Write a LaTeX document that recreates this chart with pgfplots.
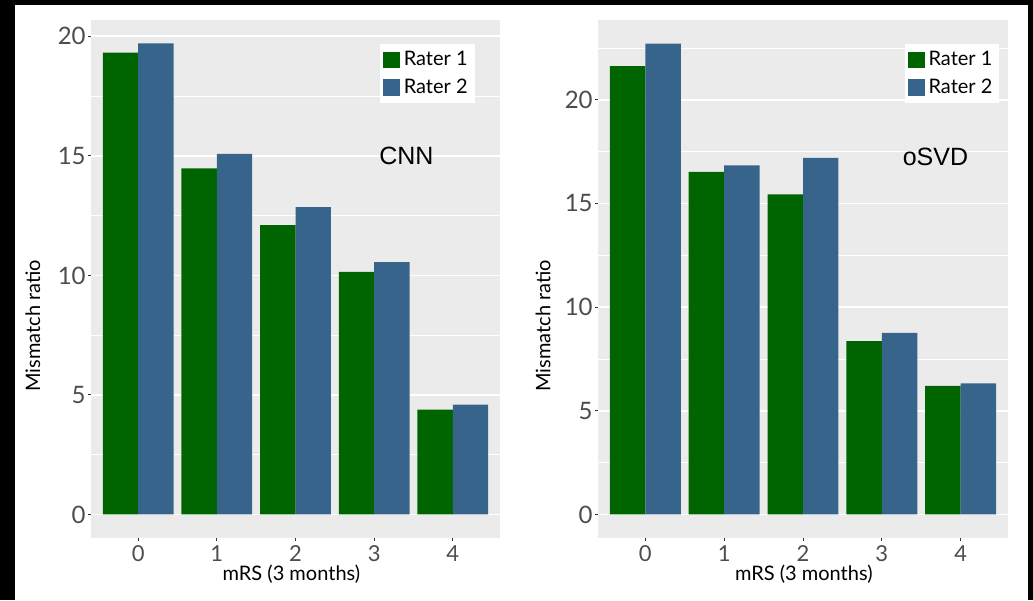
\documentclass[border=0pt]{standalone}
\usepackage{fontspec}
\setmainfont{Lato}
\newfontfamily\arialfont{Liberation Sans}
\usepackage{pgfplots}
\pgfplotsset{compat=1.18}
\definecolor{rgreen}{HTML}{006400}
\definecolor{rblue}{HTML}{36648B}
\definecolor{panelbg}{HTML}{EBEBEB}
\definecolor{ticktxt}{HTML}{4D4D4D}
\definecolor{tickcol}{HTML}{333333}
\pgfplotsset{
  ggbar/.style={
    scale only axis, height=259pt, anchor=south west,
    axis background/.style={fill=panelbg},
    axis line style={draw=none},
    xmin=-0.6, xmax=4.6,
    xtick={0,1,2,3,4},
    ytick={0,5,10,15,20},
    minor ytick={2.5,7.5,12.5,17.5,22.5},
    xtick pos=bottom, ytick pos=left,
    ymajorgrids, yminorgrids,
    major grid style={white, line width=0.9pt},
    minor grid style={white, line width=0.45pt},
    tick align=outside,
    major tick length=1.5pt,
    minor tick length=0pt,
    tick style={tickcol, line width=0.5pt},
    /pgf/number format/assume math mode=true,
    ticklabel style={text=ticktxt},
    yticklabel style={inner sep=1pt, font=\fontsize{12}{14}\selectfont},
    xticklabel style={inner sep=2pt, font=\fontsize{11}{13}\selectfont},
    xlabel={mRS (3 months)}, ylabel={Mismatch ratio},
    label style={font=\fontsize{10}{12}\selectfont},
    legend style={fill=white, draw=none, inner sep=1.5pt, row sep=1pt,
      font=\fontsize{10}{12}\selectfont, legend cell align=left,
      anchor=north east},
    legend image code/.code={\fill[#1] (0pt,-4.2pt) rectangle (8.4pt,4.2pt);},
  }
}
\begin{document}
\begin{tikzpicture}
\fill[black] (0pt,0pt) rectangle (516.5pt,300pt);
\fill[white] (7.5pt,0pt) rectangle (514pt,297.5pt);
\begin{axis}[ggbar, at={(45.5pt,31pt)}, width=204.5pt,
  ymin=-0.985, ymax=20.685,
  every axis y label/.style={at={(axis description cs:-0.142,0.41)}, rotate=90, anchor=center},
  every axis x label/.style={at={(axis description cs:0.49,-0.069)}, anchor=center},
  legend style={at={(0.939,0.954)}}]
\addplot[ybar, bar width=0.45, bar shift=-0.225, fill=rgreen, draw=none]
  coordinates {(0,19.32) (1,14.48) (2,12.10) (3,10.15) (4,4.39)};
\addlegendentry{Rater 1}
\addplot[ybar, bar width=0.45, bar shift=0.225, fill=rblue, draw=none]
  coordinates {(0,19.71) (1,15.08) (2,12.86) (3,10.56) (4,4.59)};
\addlegendentry{Rater 2}
\node[font=\arialfont\fontsize{12.5}{14}\selectfont] at (axis cs:3.41,15.0) {CNN};
\end{axis}
\begin{axis}[ggbar, at={(299pt,31pt)}, width=205pt,
  ymin=-1.1355, ymax=23.85,
  every axis y label/.style={at={(axis description cs:-0.134,0.41)}, rotate=90, anchor=center},
  every axis x label/.style={at={(axis description cs:0.502,-0.069)}, anchor=center},
  legend style={at={(0.98,0.954)}}]
\addplot[ybar, bar width=0.45, bar shift=-0.225, fill=rgreen, draw=none]
  coordinates {(0,21.62) (1,16.52) (2,15.44) (3,8.36) (4,6.20)};
\addlegendentry{Rater 1}
\addplot[ybar, bar width=0.45, bar shift=0.225, fill=rblue, draw=none]
  coordinates {(0,22.71) (1,16.84) (2,17.20) (3,8.76) (4,6.32)};
\addlegendentry{Rater 2}
\node[font=\arialfont\fontsize{12.5}{14}\selectfont] at (axis cs:3.68,17.26) {oSVD};
\end{axis}
\end{tikzpicture}
\end{document}
